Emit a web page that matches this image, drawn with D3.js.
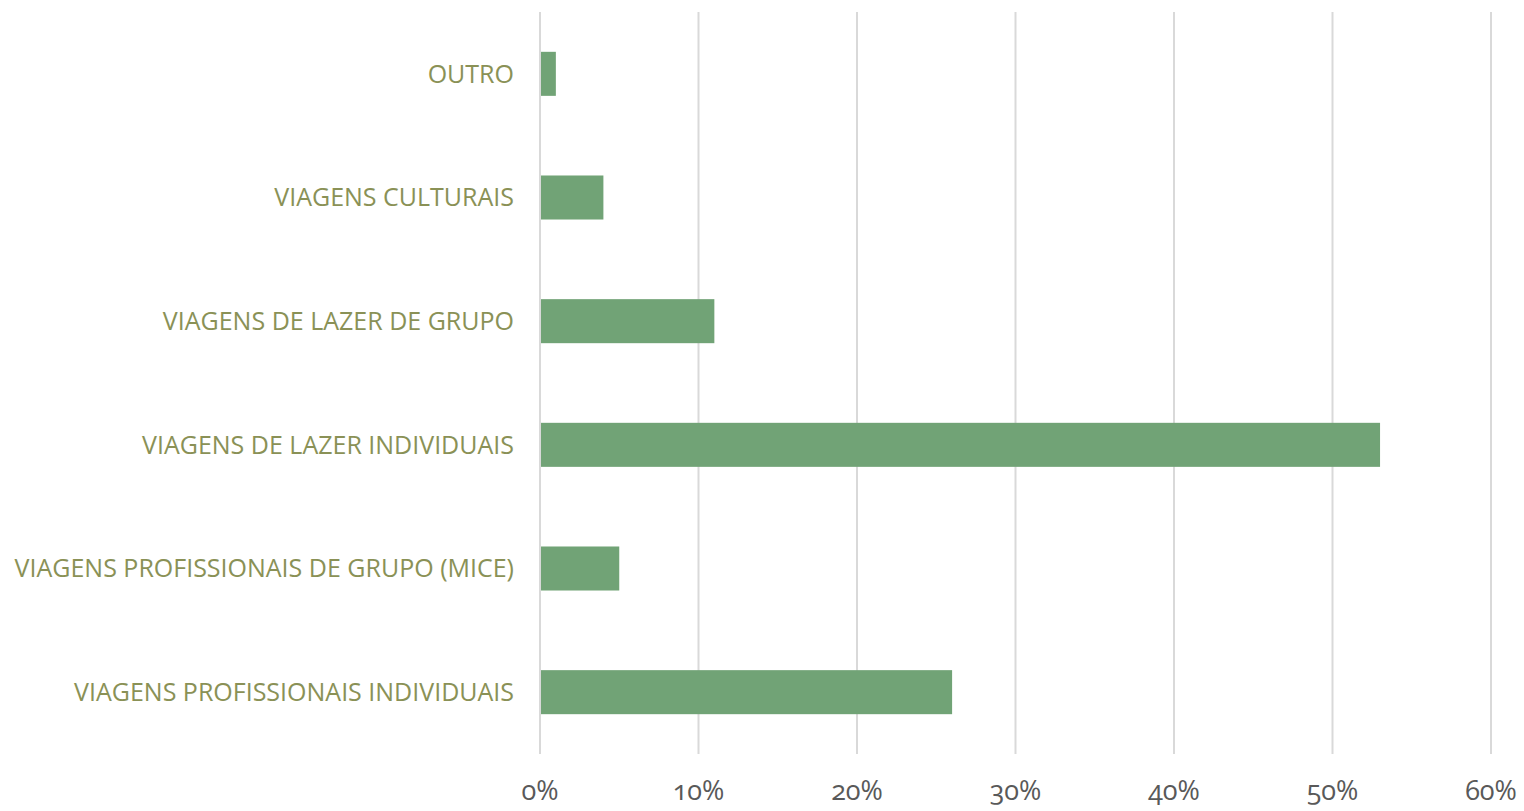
<!DOCTYPE html>
<html>
<head>
<meta charset="utf-8">
<script src="https://cdn.jsdelivr.net/npm/d3@7"></script>
<style>
  body { margin: 0; background: #fff; }
  svg { display: block; }
</style>
</head>
<body>
<svg id="chart" width="1524" height="811"></svg>
<script>
// categories top to bottom
const categories = [
  "OUTRO",
  "VIAGENS CULTURAIS",
  "VIAGENS DE LAZER DE GRUPO",
  "VIAGENS DE LAZER INDIVIDUAIS",
  "VIAGENS PROFISSIONAIS DE GRUPO (MICE)",
  "VIAGENS PROFISSIONAIS INDIVIDUAIS"
];
const shares = [0.01, 0.04, 0.11, 0.53, 0.05, 0.26];
const tickValues = [0, 0.1, 0.2, 0.3, 0.4, 0.5, 0.6];

const data = categories.map((c, i) => ({ cat: c, value: shares[i] }));

const margin = {top: 12, right: 33, bottom: 57, left: 540};
const svg = d3.select("#chart");
const width = +svg.attr("width") - margin.left - margin.right;
const height = +svg.attr("height") - margin.top - margin.bottom;

const g = svg.append("g").attr("transform", `translate(${margin.left},${margin.top})`);

const x = d3.scaleLinear().domain([0, 0.6]).range([0, width]);
const y = d3.scaleBand().domain(categories).range([0, height]).paddingInner(0.644).paddingOuter(0.322);

// gridlines
g.selectAll(".grid").data(tickValues).join("line")
  .attr("class", "grid")
  .attr("x1", d => x(d)).attr("x2", d => x(d))
  .attr("y1", 0).attr("y2", height)
  .attr("stroke", "#d9d9d9").attr("stroke-width", 2);

// bars
g.selectAll(".bar").data(data).join("rect")
  .attr("class", "bar")
  .attr("x", x(0) + 1)
  .attr("y", d => y(d.cat))
  .attr("width", d => x(d.value) - x(0) - 1)
  .attr("height", y.bandwidth())
  .attr("fill", "#71a376");

// category labels
g.selectAll(".cat").data(categories).join("text")
  .attr("class", "cat")
  .attr("x", -26)
  .attr("y", d => y(d) + y.bandwidth() / 2)
  .attr("dy", "0.35em")
  .attr("text-anchor", "end")
  .attr("font-family", "'Open Sans', sans-serif")
  .attr("font-size", 25)
  .attr("fill", "#8a9156")
  .text(d => d);

// x tick labels
g.selectAll(".tick-label").data(tickValues).join("text")
  .attr("class", "tick-label")
  .attr("x", d => x(d))
  .attr("y", height + 46)
  .attr("text-anchor", "middle")
  .attr("font-family", "'Open Sans', sans-serif")
  .attr("font-size", 27)
  .style("font-feature-settings", "'onum'")
  .attr("fill", "#595959")
  .text(d => d3.format(".0%")(d));
</script>
</body>
</html>
